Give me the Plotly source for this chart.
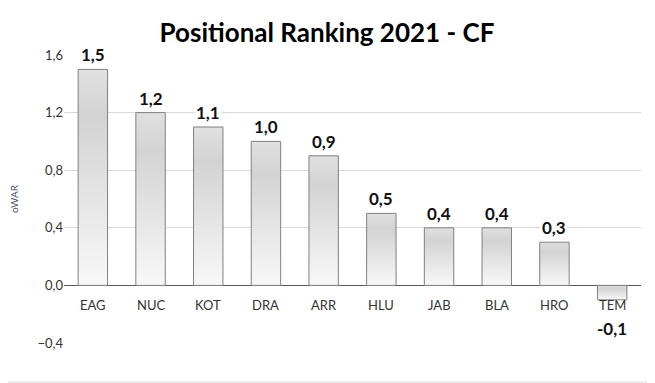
import plotly.graph_objects as go

categories = ["EAG", "NUC", "KOT", "DRA", "ARR", "HLU", "JAB", "BLA", "HRO", "TEM"]
values = [1.5, 1.2, 1.1, 1.0, 0.9, 0.5, 0.4, 0.4, 0.3, -0.1]
y_ticks = [-0.4, 0.0, 0.4, 0.8, 1.2, 1.6]
title_text = "Positional Ranking 2021 - CF"
y_title = "oWAR"

# the page body adds an 8px offset; compensate so the plot lands where it should
OFF = 8
W, H = 655 - OFF, 383 - OFF
ML, MR, MT, MB = 64 - OFF, 14, 55 - OFF, 40
FONT = "Lato, 'Open Sans', sans-serif"

fig = go.Figure()
half = 0.255
for i, v in enumerate(values):
    xs = [i - half, i - half, i + half, i + half, i - half]
    ys = [0, v, v, 0, 0]
    fig.add_trace(go.Scatter(
        x=xs, y=ys, mode="lines", fill="toself",
        line=dict(color="#808080", width=1),
        fillgradient=dict(type="vertical",
                          colorscale=[[0, "#f8f8f8"], [0.78, "#d3d3d3"], [1, "#e0e0e0"]]),
        hoverinfo="skip", showlegend=False,
    ))

ann = []
for i, (c, v) in enumerate(zip(categories, values)):
    ann.append(dict(x=i, y=0, text=c, showarrow=False, yanchor="top", yshift=-10,
                    font=dict(family=FONT, size=13, color="#333333")))
    lbl = f"{v:.1f}".replace(".", ",")
    if v >= 0:
        ann.append(dict(x=i, y=v, text=f"<b>{lbl}</b>", showarrow=False, yanchor="bottom",
                        yshift=2, bgcolor="white", borderpad=1,
                        font=dict(family=FONT, size=17, color="#111111")))
    else:
        ann.append(dict(x=i, y=v, text=f"<b>{lbl}</b>", showarrow=False, yanchor="top",
                        yshift=-16, bgcolor="white", borderpad=1,
                        font=dict(family=FONT, size=17, color="#111111")))

pw = W - ML - MR
ph = H - MT - MB
xr = 1 + (MR - 1) / pw
yb = -(MB - 1) / ph
yt = 1 + (MT + 10) / ph
xl = -(ML + 10) / pw
shapes = [
    dict(type="line", xref="paper", yref="paper", x0=xr, x1=xr, y0=yb, y1=yt,
         line=dict(color="#d9d9d9", width=1)),
    dict(type="line", xref="paper", yref="paper", x0=xl, x1=xr, y0=yb, y1=yb,
         line=dict(color="#d9d9d9", width=1)),
]

fig.update_layout(
    width=W, height=H,
    margin=dict(l=ML, r=MR, t=MT, b=MB, autoexpand=False),
    paper_bgcolor="white", plot_bgcolor="white",
    separators=",.",
    title=dict(text=f"<b>{title_text}</b>", xref="container", x=(327 - OFF) / W,
               xanchor="center", y=1 - (33 - OFF) / H, yanchor="middle",
               font=dict(family=FONT, size=26, color="black")),
    xaxis=dict(range=[-0.5, 9.5], showticklabels=False, showgrid=False, zeroline=False,
               showline=False, fixedrange=True, automargin=False),
    yaxis=dict(range=[-0.4, 1.6], tickvals=y_ticks, tickformat=".1f",
               showgrid=True, gridcolor="#d9d9d9", gridwidth=1,
               zeroline=True, zerolinecolor="#595959", zerolinewidth=1,
               showline=False, ticks="", ticklen=0, automargin=False,
               tickfont=dict(family=FONT, size=13, color="#333333"),
               title=dict(text=y_title, standoff=16,
                          font=dict(family=FONT, size=10, color="#44546a"))),
    annotations=ann,
    shapes=shapes,
)

fig.write_html("out.html")
